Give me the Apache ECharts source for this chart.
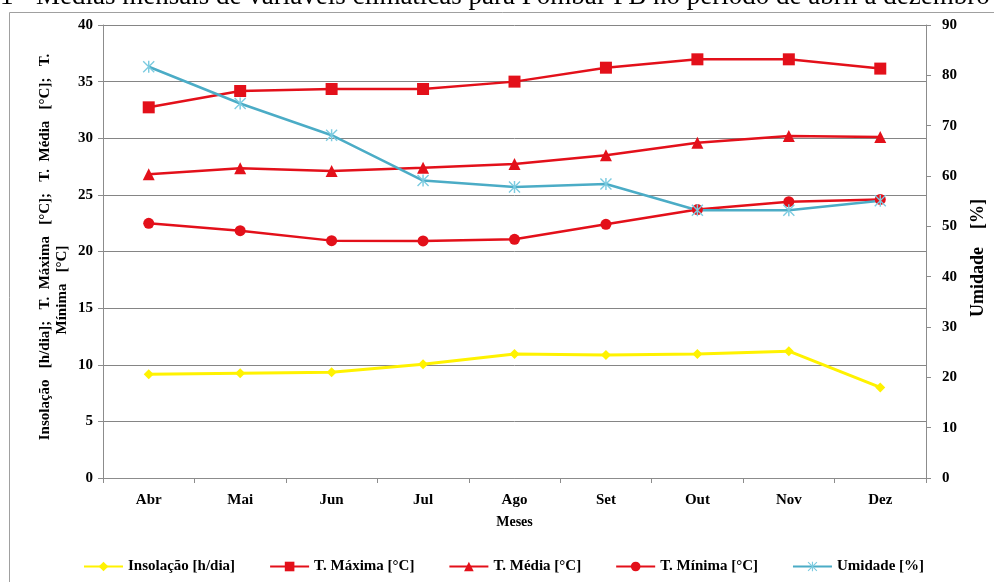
<!DOCTYPE html>
<html>
<head>
<meta charset="utf-8">
<script src="https://cdn.jsdelivr.net/npm/echarts@6/dist/echarts.min.js"></script>
<style>html,body{margin:0;padding:0;background:#fff;}#c{width:994px;height:582px;}</style>
</head>
<body>
<div id="c"></div>
<script>
const months = ['Abr','Mai','Jun','Jul','Ago','Set','Out','Nov','Dez'];
const insolacao = [9.16, 9.24, 9.33, 10.04, 10.95, 10.86, 10.95, 11.2, 8.0];
const tMaxima = [32.73, 34.17, 34.35, 34.35, 35.0, 36.23, 36.97, 36.97, 36.15];
const tMedia = [26.82, 27.35, 27.1, 27.4, 27.73, 28.5, 29.6, 30.2, 30.1];
const tMinima = [22.49, 21.84, 20.96, 20.93, 21.08, 22.4, 23.7, 24.4, 24.6];
const umidade = [81.7, 74.4, 68.1, 59.1, 57.8, 58.4, 53.2, 53.2, 55.1];
const leftTicks = [0, 40, 5];
const rightTicks = [0, 90, 10];

const serif = 'Liberation Serif';
const red = '#E3101A';
const yellow = '#FFF200';
const teal = '#4BACC6';
const asterisk = 'path://M4.4 0 L5.6 0 L5.6 10 L4.4 10 Z M0 0.8 L0.8 0 L10 9.2 L9.2 10 Z M9.2 0 L10 0.8 L0.8 10 L0 9.2 Z';

const chart = echarts.init(document.getElementById('c'), null, {renderer: 'canvas'});
chart.setOption({
  animation: false,
  backgroundColor: '#fff',
  grid: {left: 103, right: 68, top: 25, bottom: 104, containLabel: false},
  graphic: [
    {type: 'rect', left: 7, top: 10, shape: {x: 0.5, y: 0.5, width: 1000, height: 600}, style: {fill: 'none', stroke: '#a0a0a0', lineWidth: 1}, silent: true},
    {type: 'text', x: 0, y: 10, style: {text: '1 - Médias mensais de variáveis climáticas para Pombal-PB no período de abril a dezembro', font: '27px "Liberation Serif"', fill: '#000', verticalAlign: 'bottom', align: 'left'}},
    {type: 'text', x: 45, y: 247, rotation: Math.PI / 2, style: {text: 'Insolação   [h/dia];   T.  Máxima   [°C];   T.  Média   [°C];   T.', font: 'bold 15px "Liberation Serif"', fill: '#000', align: 'center', verticalAlign: 'middle'}},
    {type: 'text', x: 62, y: 290, rotation: Math.PI / 2, style: {text: 'Mínima   [°C]', font: 'bold 15px "Liberation Serif"', fill: '#000', align: 'center', verticalAlign: 'middle'}},
    {type: 'text', x: 978, y: 258, rotation: Math.PI / 2, style: {text: 'Umidade    [%]', font: 'bold 18px "Liberation Serif"', fill: '#000', align: 'center', verticalAlign: 'middle'}}
  ],
  legend: {
    bottom: 3,
    left: 78,
    itemWidth: 39,
    itemHeight: 12,
    itemGap: 34,
    textStyle: {fontFamily: serif, fontWeight: 'bold', fontSize: 15, color: '#000'},
    data: ['Insolação [h/dia]', 'T. Máxima [°C]', 'T. Média [°C]', 'T. Mínima [°C]', 'Umidade [%]']
  },
  xAxis: {
    type: 'category',
    data: months,
    boundaryGap: true,
    name: 'Meses',
    nameLocation: 'middle',
    nameGap: 37,
    nameTextStyle: {fontFamily: serif, fontWeight: 'bold', fontSize: 14, color: '#000'},
    axisLine: {lineStyle: {color: '#8c8c8c', width: 1}},
    axisTick: {show: true, length: 5, lineStyle: {color: '#8c8c8c'}},
    axisLabel: {fontFamily: serif, fontWeight: 'bold', fontSize: 15, color: '#000', margin: 15}
  },
  yAxis: [
    {
      type: 'value', min: leftTicks[0], max: leftTicks[1], interval: leftTicks[2], position: 'left',
      axisLine: {show: true, lineStyle: {color: '#8c8c8c'}},
      axisTick: {show: true, length: 5, lineStyle: {color: '#8c8c8c'}},
      axisLabel: {fontFamily: serif, fontWeight: 'bold', fontSize: 15, color: '#000', margin: 10},
      splitLine: {show: true, lineStyle: {color: '#858585', width: 1}}
    },
    {
      type: 'value', min: rightTicks[0], max: rightTicks[1], interval: rightTicks[2], position: 'right',
      axisLine: {show: true, lineStyle: {color: '#8c8c8c'}},
      axisTick: {show: true, length: 5, lineStyle: {color: '#8c8c8c'}},
      axisLabel: {fontFamily: serif, fontWeight: 'bold', fontSize: 15, color: '#000', margin: 16},
      splitLine: {show: false}
    }
  ],
  series: [
    {name: 'Insolação [h/dia]', type: 'line', yAxisIndex: 0, data: insolacao, symbol: 'diamond', symbolSize: 10,
     itemStyle: {color: yellow}, lineStyle: {color: yellow, width: 3}},
    {name: 'T. Máxima [°C]', type: 'line', yAxisIndex: 0, data: tMaxima, symbol: 'rect', symbolSize: 12,
     itemStyle: {color: red}, lineStyle: {color: red, width: 2.5}},
    {name: 'T. Média [°C]', type: 'line', yAxisIndex: 0, data: tMedia, symbol: 'triangle', symbolSize: 12,
     itemStyle: {color: red}, lineStyle: {color: red, width: 2.5}},
    {name: 'T. Mínima [°C]', type: 'line', yAxisIndex: 0, data: tMinima, symbol: 'circle', symbolSize: 11,
     itemStyle: {color: red}, lineStyle: {color: red, width: 2.5}},
    {name: 'Umidade [%]', type: 'line', yAxisIndex: 1, data: umidade, symbol: asterisk, symbolSize: 12,
     itemStyle: {color: '#7CCBE0'}, lineStyle: {color: teal, width: 2.5}}
  ]
});
</script>
</body>
</html>
